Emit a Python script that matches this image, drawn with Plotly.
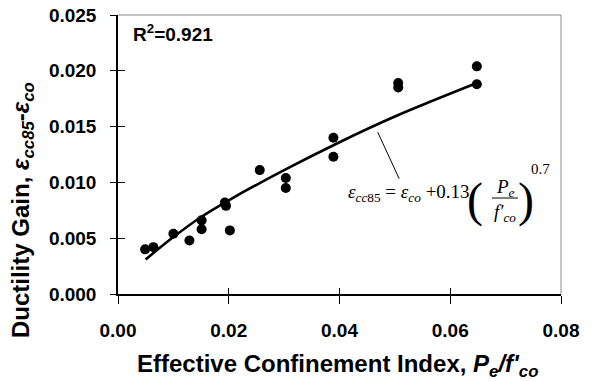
import plotly.graph_objects as go

# Observed data (Effective confinement index vs ductility gain)
x_obs = [0.0049, 0.0064, 0.0100, 0.0129, 0.0151, 0.0151, 0.0193, 0.0195, 0.0202,
         0.0256, 0.0303, 0.0303, 0.0389, 0.0389, 0.0506, 0.0506, 0.0648, 0.0648]
y_obs = [0.0040, 0.0042, 0.0054, 0.0048, 0.0066, 0.0058, 0.0082, 0.0079, 0.0057,
         0.0111, 0.0104, 0.0095, 0.0140, 0.0123, 0.0189, 0.0185, 0.0204, 0.0188]

# Fitted trend line
x_fit = [0.005, 0.010, 0.015, 0.020, 0.030, 0.040, 0.050, 0.0648]
y_fit = [0.0031, 0.0051, 0.0069, 0.0084, 0.0111, 0.0136, 0.0159, 0.0189]

x_ticks = [0.00, 0.02, 0.04, 0.06, 0.08]
y_ticks = [0.000, 0.005, 0.010, 0.015, 0.020, 0.025]

FONT = "Arial, Liberation Sans, sans-serif"
SERIF = "Times New Roman, Liberation Serif, serif"

fig = go.Figure()
fig.add_trace(go.Scatter(x=x_fit, y=y_fit, mode="lines", line=dict(color="black", width=2.6, shape="spline"),
                         showlegend=False, hoverinfo="skip"))
fig.add_trace(go.Scatter(x=x_obs, y=y_obs, mode="markers",
                         marker=dict(color="black", size=10), showlegend=False))
# invisible trace for overlay axes (inside ticks)
fig.add_trace(go.Scatter(x=[None], y=[None], xaxis="x2", yaxis="y2", showlegend=False))

tickfont = dict(family=FONT, size=19, color="black")
fig.update_layout(
    width=592, height=381,
    margin=dict(l=118, r=31, t=15, b=87),
    plot_bgcolor="white", paper_bgcolor="white",
    xaxis=dict(range=[0, 0.08], tickvals=x_ticks, ticktext=[f"<b>{v:.2f}</b>" for v in x_ticks],
               ticks="outside", ticklen=8, tickwidth=1, tickcolor="black", automargin=False,
               showline=True, linecolor="black", linewidth=1.5, showgrid=False, zeroline=False,
               tickfont=tickfont, ticklabelstandoff=10),
    yaxis=dict(range=[0, 0.025], tickvals=y_ticks, ticktext=[f"<b>{v:.3f}</b>" for v in y_ticks],
               ticks="outside", ticklen=6, tickwidth=1, tickcolor="black", automargin=False,
               showline=True, linecolor="black", linewidth=1.5, showgrid=False, zeroline=False,
               tickfont=tickfont, ticklabelstandoff=10),
    xaxis2=dict(range=[0, 0.08], tickvals=x_ticks, overlaying="x", anchor="y", side="bottom",
                ticks="inside", ticklen=6, tickwidth=1, tickcolor="black", showticklabels=False,
                showline=False, showgrid=False, zeroline=False, automargin=False),
    yaxis2=dict(range=[0, 0.025], tickvals=y_ticks, overlaying="y", anchor="x", side="left",
                ticks="inside", ticklen=7, tickwidth=1, tickcolor="black", showticklabels=False,
                showline=False, showgrid=False, zeroline=False, automargin=False),
)

# gray top and right border
fig.add_shape(type="line", xref="paper", yref="paper", x0=0, x1=1, y0=1, y1=1,
              line=dict(color="#8c8c8c", width=1))
fig.add_shape(type="line", xref="paper", yref="paper", x0=1, x1=1, y0=0, y1=1,
              line=dict(color="#8c8c8c", width=1))

# axis titles
fig.add_annotation(xref="paper", yref="paper", x=0.495, y=-0.255, yanchor="middle", xanchor="center",
                   showarrow=False,
                   text="<b>Effective Confinement Index, <i>P<sub>e</sub>/f'<sub>co</sub></i></b>",
                   font=dict(family=FONT, size=24, color="black"))
fig.add_annotation(xref="paper", yref="paper", x=-0.215, y=0.30, xanchor="center", yanchor="middle",
                   showarrow=False, textangle=-90,
                   text="<b>Ductility Gain, <i>ε<sub>cc85</sub></i>-<i>ε<sub>co</sub></i></b>",
                   font=dict(family=FONT, size=24, color="black"))

# R^2
fig.add_annotation(xref="paper", yref="paper", x=0.03, y=0.935, xanchor="left", yanchor="middle",
                   showarrow=False, text="<b>R<sup>2</sup>=0.921</b>",
                   font=dict(family=FONT, size=19, color="black"))

# leader line from curve to equation
fig.add_annotation(x=0.0469, y=0.0145, ax=0.0509, ay=0.0102, xref="x", yref="y", axref="x", ayref="y",
                   text="", showarrow=True, arrowhead=0, arrowwidth=1, arrowcolor="black")

# equation pieces
eqfont = dict(family=SERIF, size=19, color="black")
fig.add_annotation(x=0.0640, y=0.00905, xanchor="right", yanchor="middle", showarrow=False,
                   text="<i>ε<sub>cc</sub></i><sub>85</sub> = <i>ε<sub>co</sub></i> +0.13", font=eqfont)
fig.add_annotation(x=0.0645, y=0.0084, xanchor="center", yanchor="middle", showarrow=False,
                   text="(", font=dict(family=SERIF, size=48, color="black"))
fig.add_annotation(x=0.0736, y=0.0084, xanchor="center", yanchor="middle", showarrow=False,
                   text=")", font=dict(family=SERIF, size=48, color="black"))
fig.add_annotation(x=0.0699, y=0.0095, xanchor="center", yanchor="middle", showarrow=False,
                   text="<i>P<sub>e</sub></i>", font=eqfont)
fig.add_annotation(x=0.0699, y=0.00725, xanchor="center", yanchor="middle", showarrow=False,
                   text="<i>f′<sub>co</sub></i>", font=eqfont)
fig.add_annotation(x=0.0763, y=0.0112, xanchor="center", yanchor="middle", showarrow=False,
                   text="0.7", font=dict(family=SERIF, size=15, color="black"))
fig.add_shape(type="line", x0=0.06754, x1=0.07223, y0=0.0086, y1=0.0086, xref="x", yref="y",
              line=dict(color="black", width=1))

fig.write_html("out.html", config={"displayModeBar": False},
               post_script="document.body.style.margin='0px';")
